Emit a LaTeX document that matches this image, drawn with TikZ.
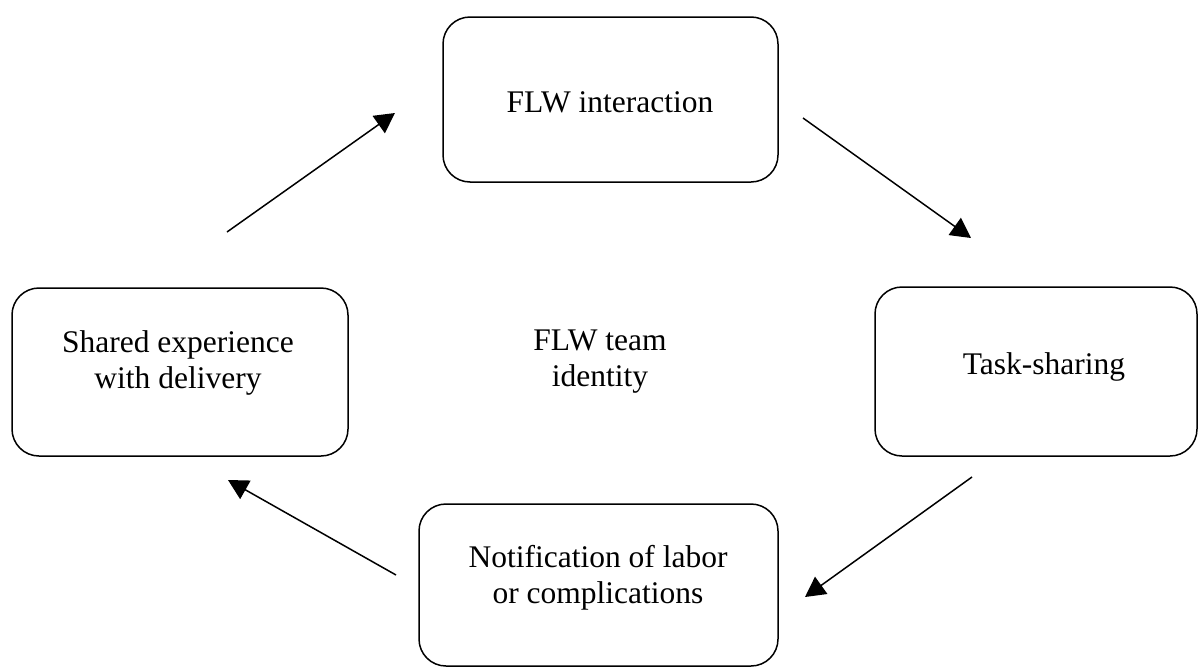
\documentclass[tikz,border=0pt]{standalone}
\usepackage{fontspec}
\setmainfont{Liberation Serif}
\usetikzlibrary{arrows.meta}
\begin{document}
\begin{tikzpicture}[x=1pt,y=-1pt,
  stagebox/.style={draw=black,line width=1.5pt,rounded corners=27pt,
    minimum width=#1,inner sep=0pt},
  stagetext/.style={font=\fontsize{31.5}{36}\selectfont,align=center,inner sep=0pt},
  flow/.style={line width=1.5pt,-{Triangle[length=20pt,width=21pt]}}
]
\useasboundingbox (0,0) rectangle (1200,667);

% the four stages of the cycle
\node[stagebox=335pt,minimum height=165pt] (interact) at (610.5,99.5) {};
\node[stagebox=322pt,minimum height=169pt] (tasks) at (1036,371.5) {};
\node[stagebox=359pt,minimum height=162pt] (notify) at (598.5,585) {};
\node[stagebox=336pt,minimum height=168pt] (shared) at (180,372) {};

% stage labels
\node[stagetext,anchor=base] (interactlbl) at (610,112) {FLW interaction};
\node[stagetext,anchor=base] (taskslbl) at (1044,374) {Task-sharing};
\node[stagetext] (notifylbl) at (598,577.7) {Notification of labor\\or complications};
\node[stagetext] (sharedlbl) at (178,362.6) {Shared experience\\with delivery};

% centre label
\node[stagetext] (identity) at (600,362) {FLW team\\identity};

% arrow end points
\coordinate (a1s) at (227,232);
\coordinate (a1e) at (395,113);
\coordinate (a2s) at (803,118);
\coordinate (a2e) at (971,238);
\coordinate (a3s) at (972,477);
\coordinate (a3e) at (805,597);
\coordinate (a4s) at (396,575);
\coordinate (a4e) at (228,480);

\draw[flow] (a1s) -- (a1e);
\draw[flow] (a2s) -- (a2e);
\draw[flow] (a3s) -- (a3e);
\draw[flow] (a4s) -- (a4e);
\end{tikzpicture}
\end{document}
